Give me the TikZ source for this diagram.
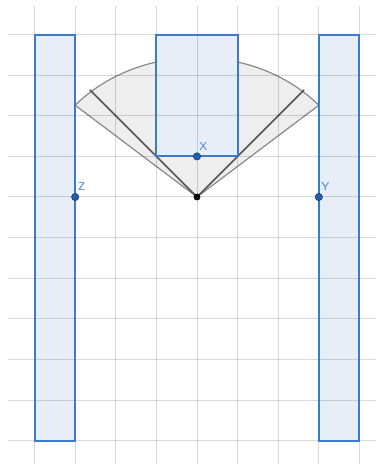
\documentclass[tikz,border=0pt]{standalone}
\usepackage{tikz}

\definecolor{paneblue}{HTML}{3A7AD0}
\definecolor{panefill}{HTML}{E7EEF8}
\definecolor{ptblue}{HTML}{1F5FAF}
\definecolor{ptedge}{HTML}{173F70}
\definecolor{lblblue}{HTML}{4A86D4}
\definecolor{wedgefill}{HTML}{EEEEEE}
\definecolor{wedgeline}{HTML}{858585}
\definecolor{rayline}{HTML}{555555}

\begin{document}
\begin{tikzpicture}
	\tikzstyle{pane} = [draw=paneblue,line width=1.3pt]
	\tikzstyle{gridline} = [draw=black,opacity=0.15,line width=0.7pt]
	\tikzstyle{pt} = [circle,fill=ptblue,draw=ptedge,line width=0.4pt,inner sep=0pt,minimum size=0.18cm]
	\tikzstyle{lbl} = [text=lblblue,font=\sffamily\footnotesize,inner sep=1pt,xshift=0.16cm,yshift=0.25cm]

	\useasboundingbox (-4.852,-6.576) rectangle (4.409,4.852);

	\coordinate (O) at (0,0);
	\coordinate (L) at (-3,2.26);
	\coordinate (R) at (3,2.26);
	\coordinate (Lm) at (-2.64,2.64);
	\coordinate (Rm) at (2.64,2.64);

	% wedge
	\fill[wedgefill] (O) -- (L) arc[start angle=138.6,end angle=41.4,x radius=4,y radius=3.47] -- cycle;
	\draw[wedgeline,line width=0.8pt] (L) arc[start angle=138.6,end angle=41.4,x radius=4,y radius=3.47];
	\draw[wedgeline,line width=0.8pt] (O) -- (L);
	\draw[wedgeline,line width=0.8pt] (O) -- (R);
	\draw[rayline,line width=1.1pt] (O) -- (Lm);
	\draw[rayline,line width=1.1pt] (O) -- (Rm);

	% panes
	\fill[panefill] (-4,-6) rectangle (-3,4);
	\fill[panefill] (3,-6) rectangle (4,4);
	\fill[panefill] (-1,1) rectangle (1,4);

	% grid
	\foreach \x in {-4,...,4}
		\draw[gridline] (\x,4.704) -- (\x,-6.576);
	\foreach \y in {-6,...,4}
		\draw[gridline] (-4.655,\y) -- (4.409,\y);

	\draw[pane] (-4,-6) rectangle (-3,4);
	\draw[pane] (3,-6) rectangle (4,4);
	\draw[pane] (-1,1) rectangle (1,4);

	% points
	\node[circle,fill=black,inner sep=0pt,minimum size=0.17cm] (o) at (O) {};
	\node[pt] (x) at (0,1) {};
	\node[pt] (z) at (-3,0) {};
	\node[pt] (y) at (3,0) {};
	\node[lbl] (xl) at (x) {X};
	\node[lbl] (zl) at (z) {Z};
	\node[lbl] (yl) at (y) {Y};
\end{tikzpicture}
\end{document}
